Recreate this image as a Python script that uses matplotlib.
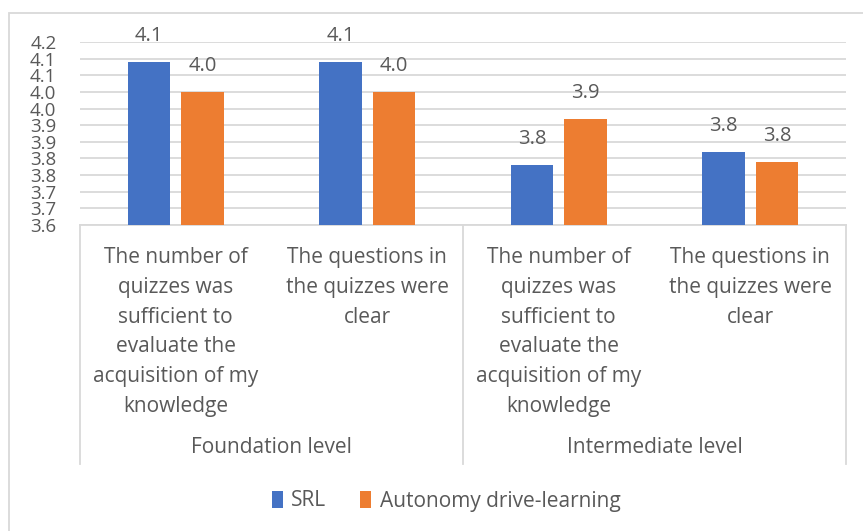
import numpy as np
import matplotlib.pyplot as plt
from matplotlib.patches import Rectangle
from matplotlib.transforms import blended_transform_factory

plt.rcParams['font.family'] = ['Open Sans', 'DejaVu Sans']

# Data
questions = [
    "The number of\nquizzes was\nsufficient to\nevaluate the\nacquisition of my\nknowledge",
    "The questions in\nthe quizzes were\nclear",
    "The number of\nquizzes was\nsufficient to\nevaluate the\nacquisition of my\nknowledge",
    "The questions in\nthe quizzes were\nclear",
]
groups = ["Foundation level", "Intermediate level"]
srl = [4.09, 4.09, 3.78, 3.82]
autonomy = [4.00, 4.00, 3.92, 3.79]
ytick_vals = [3.6, 3.65, 3.7, 3.75, 3.8, 3.85, 3.9, 3.95, 4.0, 4.05, 4.1, 4.15]
ytick_labels = ["3.6", "3.7", "3.7", "3.8", "3.8", "3.9", "3.9", "4.0", "4.0", "4.1", "4.1", "4.2"]

text_color = "#595959"
grid_color = "#D9D9D9"
blue = "#4472C4"
orange = "#ED7D31"
fs = 15

W, H = 863, 531
fig = plt.figure(figsize=(W / 100, H / 100), dpi=100)

# outer chart border (runs off the right and bottom edges)
fig.patches.append(Rectangle((9 / W, -0.01), 1.0, 1 - 13 / H + 0.01,
                             transform=fig.transFigure, fill=False,
                             edgecolor=grid_color, linewidth=1.3))

left, right, top, bottom = 80, 846, 42, 225
ax = fig.add_axes([left / W, 1 - bottom / H, (right - left) / W, (bottom - top) / H])

x = np.arange(len(questions))
width = 0.223
offset = 0.14
b1 = ax.bar(x - offset, srl, width, color=blue, label="SRL", zorder=3)
b2 = ax.bar(x + offset, autonomy, width, color=orange, label="Autonomy drive-learning", zorder=3)

for bars, vals in ((b1, srl), (b2, autonomy)):
    for rect, v in zip(bars, vals):
        ax.annotate(f"{v:.1f}", (rect.get_x() + rect.get_width() / 2, v),
                    xytext=(0, 18.5), textcoords="offset points",
                    ha="center", va="center", fontsize=14.5, color=text_color)

ax.set_xlim(-0.5, len(questions) - 0.5)
ax.set_ylim(3.6, 4.15)
ax.set_yticks(ytick_vals)
ax.set_yticklabels(ytick_labels)
ax.tick_params(axis="y", length=0, pad=17, labelsize=13.5, labelcolor=text_color)
ax.set_xticks([])
ax.grid(axis="y", color=grid_color, linewidth=1.3, zorder=0)
for s in ("top", "right", "left"):
    ax.spines[s].set_visible(False)
ax.spines["bottom"].set_color(grid_color)
ax.spines["bottom"].set_linewidth(1.3)

trans = blended_transform_factory(ax.transData, ax.transAxes)
# category labels
for i, q in enumerate(questions):
    ax.text(i, -22 / (bottom - top), q, transform=trans, ha="center", va="top",
            fontsize=fs, color=text_color, linespacing=1.55)
# group labels
for j, g in enumerate(groups):
    ax.text(2 * j + 0.5, -(447 - bottom) / (bottom - top), g, transform=trans,
            ha="center", va="center", fontsize=fs, color=text_color)
# separators of the two-level category axis
sep_bottom = -(464 - bottom) / (bottom - top)
for xs in (-0.5, 1.5, 3.5):
    ax.plot([xs, xs], [0, sep_bottom], transform=trans, color=grid_color,
            linewidth=1.3, clip_on=False)

fig.legend(handles=[b1, b2], loc="center", bbox_to_anchor=(446 / W, 1 - 501 / H),
           ncol=2, frameon=False, fontsize=fs, labelcolor=text_color,
           handlelength=0.55, handleheight=0.85, handletextpad=0.4, columnspacing=1.6)

fig.savefig("out.png", dpi=100)
